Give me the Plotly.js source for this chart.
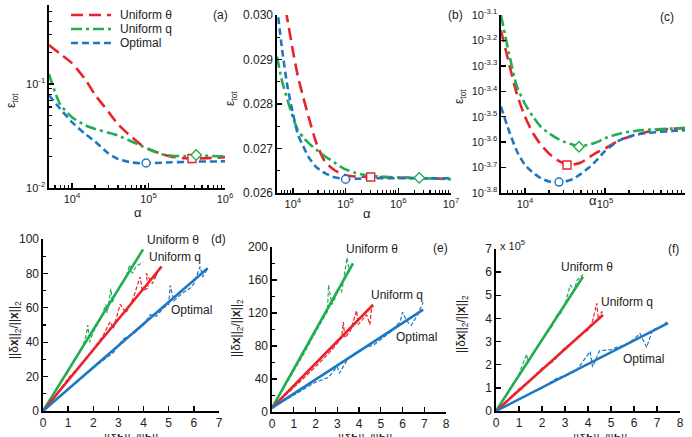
<!DOCTYPE html>
<html>
<head>
<meta charset="utf-8">
<script src="https://cdn.plot.ly/plotly-3.0.1.min.js"></script>
<style>
  html, body { margin: 0; padding: 0; background: #fff; }
  #chart { width: 692px; height: 437px; }
</style>
</head>
<body>
<div id="chart"></div>
<script>
// ---------- colours ----------
const RED = '#e8232b', GREEN = '#22ad52', BLUE = '#1f77c2';

// ---------- panel (a): total error vs regularisation parameter ----------
const aAlpha = [5000, 7000, 10000, 15000, 20000, 30000, 40000, 60000, 80000, 100000, 150000, 200000, 300000, 400000, 600000, 800000, 1000000];
const aTheta = [0.237, 0.195, 0.159, 0.110, 0.079, 0.054, 0.041, 0.031, 0.026, 0.0238, 0.0212, 0.0200, 0.0193, 0.0192, 0.0194, 0.0196, 0.0198];
const aQ     = [0.125, 0.064, 0.048, 0.040, 0.037, 0.034, 0.032, 0.028, 0.0255, 0.0236, 0.0211, 0.0204, 0.0203, 0.0205, 0.0204, 0.0202, 0.0201];
const aOpt   = [0.078, 0.058, 0.043, 0.033, 0.028, 0.0215, 0.0190, 0.0176, 0.0173, 0.0173, 0.0175, 0.0177, 0.0178, 0.0179, 0.0180, 0.0180, 0.0181];
const aMinAlpha = [370000, 420000, 93000];     // theta, q, optimal
const aMinEps   = [0.0192, 0.0208, 0.0174];

// ---------- panel (b) ----------
const bAlpha = [5000, 6300, 7900, 10000, 12600, 15800, 20000, 28000, 40000, 56000, 79000, 100000, 158000, 316000, 1000000, 3160000, 10000000];
const bTheta = [null, 0.0305, 0.0299, 0.0292, 0.0286, 0.02815, 0.0277, 0.02712, 0.02672, 0.02655, 0.02644, 0.0264, 0.02637, 0.02636, 0.02635, 0.02633, 0.02632];
const bQ     = [0.02906, 0.0285, 0.0281, 0.0277, 0.0274, 0.02725, 0.02712, 0.02697, 0.02683, 0.02672, 0.0266, 0.02653, 0.02645, 0.02638, 0.02635, 0.02633, 0.02631];
const bOpt   = [0.0302, 0.0292, 0.0284, 0.0278, 0.0273, 0.02705, 0.0268, 0.02658, 0.02645, 0.02637, 0.02633, 0.02631, 0.02632, 0.02633, 0.02633, 0.02633, 0.02633];
const bMinAlpha = [300000, 2500000, 100000];
const bMinEps   = [0.02636, 0.02634, 0.02631];

// ---------- panel (c): exponents of the total error ----------
const cAlpha = [5000, 6300, 7900, 10000, 12600, 15800, 20000, 25100, 31600, 39800, 50100, 63100, 79400, 100000, 158000, 251000, 398000, 631000, 1000000];
const cThetaExp = [-3.16, -3.29, -3.41, -3.50, -3.565, -3.61, -3.645, -3.67, -3.685, -3.688, -3.68, -3.66, -3.64, -3.625, -3.59, -3.57, -3.555, -3.548, -3.545];
const cQExp     = [-3.10, -3.25, -3.38, -3.45, -3.50, -3.54, -3.565, -3.585, -3.60, -3.61, -3.615, -3.61, -3.60, -3.585, -3.565, -3.555, -3.55, -3.547, -3.545];
const cOptExp   = [-3.46, -3.555, -3.635, -3.69, -3.72, -3.742, -3.755, -3.758, -3.755, -3.745, -3.725, -3.70, -3.67, -3.635, -3.59, -3.57, -3.562, -3.557, -3.553];
const cMinAlpha = [33500, 47300, 26600];
const cMinExp   = [-3.69, -3.618, -3.757];

// ---------- panels (d)-(f): perturbation response ----------
// noisy samples
const dThetaX = [0, 0.5, 1.0, 1.3, 1.55, 1.7, 1.78, 1.85, 2.0, 2.3, 2.5, 2.55, 2.7, 2.75, 2.9, 3.1, 3.3, 3.45, 3.55, 3.7, 3.98];
const dThetaY = [0, 12, 23, 31, 36, 43, 50, 40, 46, 54, 62, 57, 71, 63, 68, 73, 78, 85, 80, 84, 86.6];
const dQX = [0, 0.5, 1.0, 1.5, 2.0, 2.4, 2.67, 2.8, 3.07, 3.3, 3.6, 3.86, 3.95, 4.19, 4.1, 4.35, 4.53, 4.45, 4.66];
const dQY = [0, 9, 19, 27, 36, 44, 52, 48, 62, 57, 66, 78, 70, 71.5, 80, 74, 81, 77, 84];
const dOptX = [0, 1.0, 2.0, 2.8, 3.2, 3.6, 4.0, 4.26, 4.5, 4.8, 5.0, 5.06, 5.2, 5.5, 5.86, 6.0, 6.25, 6.35, 6.55];
const dOptY = [0, 13, 25, 34, 42, 45, 50, 56, 55, 60, 62, 73, 64, 68, 71.5, 74, 84, 78, 83];
// least-squares lines: end points
const dFitX = [3.98, 4.72, 6.55];
const dFitY = [94, 84, 83];

const eThetaX = [0, 0.5, 1.0, 1.5, 1.9, 2.3, 2.55, 2.6, 2.75, 2.9, 3.07, 3.2, 3.45, 3.55, 3.72];
const eThetaY = [5, 27, 50, 72, 92, 110, 122, 154, 130, 138, 150, 145, 187, 172, 180];
const eQX = [0, 0.5, 1.0, 1.5, 2.0, 2.5, 2.9, 3.2, 3.28, 3.35, 3.6, 3.89, 3.95, 4.1, 4.35, 4.5, 4.57, 4.65];
const eQY = [5, 17, 30, 42, 55, 68, 80, 90, 109, 90, 98, 123, 106, 110, 118, 106, 124, 128];
const eOptX = [0, 1.0, 2.0, 2.6, 3.0, 3.1, 3.5, 3.9, 4.3, 4.66, 5.0, 5.5, 5.9, 6.0, 6.2, 6.4, 6.7, 6.95];
const eOptY = [5, 21, 36, 42, 55, 47, 65, 73, 78, 81, 88, 98, 110, 121, 110, 105, 118, 133];
const eFitX = [3.72, 4.65, 6.95];
const eFitY = [180, 130, 124];

const fThetaX = [0, 0.5, 1.0, 1.33, 1.41, 1.6, 2.0, 2.4, 2.65, 2.8, 3.0, 3.23, 3.4, 3.52, 3.78];
const fThetaY = [0, 0.8, 1.6, 2.45, 2.1, 2.5, 3.1, 3.6, 4.15, 4.2, 4.6, 5.45, 5.2, 5.65, 5.9];
const fQX = [0, 1.0, 1.5, 2.0, 2.5, 3.0, 3.3, 3.6, 4.0, 4.2, 4.38, 4.45, 4.6, 4.65];
const fQY = [0, 0.95, 1.35, 1.85, 2.15, 2.75, 2.95, 3.25, 3.5, 3.9, 4.65, 3.95, 4.3, 4.15];
const fOptX = [0, 1.0, 2.0, 2.7, 3.0, 3.5, 4.09, 4.2, 4.5, 5.0, 5.24, 5.6, 6.0, 6.26, 6.55, 6.8, 7.1, 7.43];
const fOptY = [0, 0.5, 1.0, 1.45, 1.5, 1.75, 2.57, 1.9, 2.6, 2.65, 2.75, 2.85, 3.1, 3.35, 2.75, 3.5, 3.6, 3.85];
const fFitX = [3.78, 4.65, 7.48];
const fFitY = [5.8, 4.15, 3.8];

const seriesNames = ['Uniform θ', 'Uniform q', 'Optimal'];

// ---------- styles ----------
const DASH = { theta: '12px,6px', q: '11px,4px,3px,4px', opt: '7px,4px' };
const FONT = 'Liberation Sans, Arial, Helvetica, sans-serif';

const W = 692, H = 437;
const px = v => v / W;
const py = v => 1 - v / H;

const traces = [];
function curve(ax, x, y, color, dash) {
  traces.push({ type: 'scatter', mode: 'lines', x: x, y: y, xaxis: 'x' + ax, yaxis: 'y' + ax,
    line: { color: color, width: 2.6, dash: dash, shape: 'spline', smoothing: 0.6 },
    connectgaps: false, showlegend: false, hoverinfo: 'skip' });
}
function marker(ax, x, y, color, symbol) {
  traces.push({ type: 'scatter', mode: 'markers', x: [x], y: [y], xaxis: 'x' + ax, yaxis: 'y' + ax,
    marker: { symbol: symbol, size: 8, color: '#fff', line: { color: color, width: 1.4 } },
    showlegend: false, hoverinfo: 'skip' });
}
function noisy(ax, x, y, color) {
  traces.push({ type: 'scatter', mode: 'lines', x: x, y: y, xaxis: 'x' + ax, yaxis: 'y' + ax,
    line: { color: color, width: 1.2, dash: '4px,2px' }, showlegend: false, hoverinfo: 'skip' });
}
function fit(ax, xe, ye, color, y0) {
  traces.push({ type: 'scatter', mode: 'lines', x: [0, xe], y: [y0, ye], xaxis: 'x' + ax, yaxis: 'y' + ax,
    line: { color: color, width: 2.6 }, showlegend: false, hoverinfo: 'skip' });
}

// (a)
curve('', aAlpha, aTheta, RED, DASH.theta);
curve('', aAlpha, aQ, GREEN, DASH.q);
curve('', aAlpha, aOpt, BLUE, DASH.opt);
// (b)
curve('2', bAlpha, bTheta, RED, DASH.theta);
curve('2', bAlpha, bQ, GREEN, DASH.q);
curve('2', bAlpha, bOpt, BLUE, DASH.opt);
// (c)
const pow10 = a => a.map(v => Math.pow(10, v));
curve('3', cAlpha, pow10(cThetaExp), RED, DASH.theta);
curve('3', cAlpha, pow10(cQExp), GREEN, DASH.q);
curve('3', cAlpha, pow10(cOptExp), BLUE, DASH.opt);

// minimum markers (white-filled)
const mColors = [RED, GREEN, BLUE], mSymbols = ['square', 'diamond', 'circle'];
for (let i = 0; i < 3; i++) {
  marker('', aMinAlpha[i], aMinEps[i], mColors[i], mSymbols[i]);
  marker('2', bMinAlpha[i], bMinEps[i], mColors[i], mSymbols[i]);
  marker('3', cMinAlpha[i], Math.pow(10, cMinExp[i]), mColors[i], mSymbols[i]);
}

// (d)-(f): green = uniform theta, red = uniform q, blue = optimal
const lineColors = [GREEN, RED, BLUE];
noisy('4', dThetaX, dThetaY, GREEN); noisy('4', dQX, dQY, RED); noisy('4', dOptX, dOptY, BLUE);
noisy('5', eThetaX, eThetaY, GREEN); noisy('5', eQX, eQY, RED); noisy('5', eOptX, eOptY, BLUE);
noisy('6', fThetaX, fThetaY, GREEN); noisy('6', fQX, fQY, RED); noisy('6', fOptX, fOptY, BLUE);
for (let i = 0; i < 3; i++) {
  fit('4', dFitX[i], dFitY[i], lineColors[i], 0);
  fit('5', eFitX[i], eFitY[i], lineColors[i], 5);
  fit('6', fFitX[i], fFitY[i], lineColors[i], 0);
}

// ---------- axes ----------
function decadeMinors(lo, hi) {
  const out = [];
  for (let e = lo; e < hi; e++) for (let k = 2; k <= 9; k++) out.push(k * Math.pow(10, e));
  return out;
}
const sup = (e) => '10<sup>' + e + '</sup>';
function baseAxis(extra) {
  return Object.assign({
    showline: true, linecolor: '#000', linewidth: 1.6, mirror: false,
    ticks: 'inside', ticklen: 5, tickwidth: 1.4, tickcolor: '#000',
    showgrid: false, zeroline: false, fixedrange: true,
    tickfont: { family: FONT, size: 11, color: '#222' }
  }, extra);
}
function logX(domain, lo, hi, exps, anchor) {
  return baseAxis({ type: 'log', domain: domain, range: [lo, hi], anchor: anchor,
    tickmode: 'array', tickvals: exps.map(e => Math.pow(10, e)), ticktext: exps.map(sup),
    minor: { ticks: 'inside', ticklen: 3, tickwidth: 1.2, tickcolor: '#000', tickmode: 'array',
      tickvals: decadeMinors(Math.floor(lo), Math.ceil(hi)) } });
}
const linFont = { family: FONT, size: 12, color: '#222' };

const layout = {
  width: W, height: H,
  margin: { l: 0, r: 0, t: 0, b: 0 },
  paper_bgcolor: '#fff', plot_bgcolor: 'rgba(0,0,0,0)',
  showlegend: false,
  font: { family: FONT, size: 11, color: '#222' },

  xaxis:  logX([px(49), px(225)], 3.7, 6, [4, 5, 6], 'y'),
  yaxis:  baseAxis({ type: 'log', domain: [py(188), py(5)], range: [-2, -0.24], anchor: 'x',
            tickmode: 'array', tickvals: [0.01, 0.1], ticktext: [sup('-2'), sup('-1')],
            minor: { ticks: 'inside', ticklen: 3, tickwidth: 1.2, tickcolor: '#000', tickmode: 'array',
              tickvals: decadeMinors(-2, 0) } }),

  xaxis2: logX([px(277), px(451)], 3.7, 7, [4, 5, 6, 7], 'y2'),
  yaxis2: baseAxis({ domain: [py(193), py(15)], range: [0.026, 0.030], anchor: 'x2',
            tickmode: 'array', tickvals: [0.026, 0.027, 0.028, 0.029, 0.030],
            ticktext: ['0.026', '0.027', '0.028', '0.029', '0.030'],
            tickfont: linFont,
            minor: { ticks: 'inside', ticklen: 3, tickwidth: 1.2, tickcolor: '#000', dtick: 0.0005 } }),

  xaxis3: logX([px(501), px(685)], 3.7, 6, [4, 5, 6], 'y3'),
  yaxis3: baseAxis({ type: 'log', domain: [py(193), py(15)], range: [-3.8, -3.1], anchor: 'x3',
            tickmode: 'array',
            tickvals: [-3.1, -3.2, -3.3, -3.4, -3.5, -3.6, -3.7, -3.8].map(e => Math.pow(10, e)),
            ticktext: ['-3.1', '-3.2', '-3.3', '-3.4', '-3.5', '-3.6', '-3.7', '-3.8'].map(sup) }),

  xaxis4: baseAxis({ domain: [px(43), px(219)], range: [0, 7], dtick: 1, anchor: 'y4', tickfont: linFont }),
  yaxis4: baseAxis({ domain: [py(411), py(239)], range: [0, 100], dtick: 20, anchor: 'x4', tickfont: linFont,
            minor: { ticks: 'inside', ticklen: 3, tickwidth: 1.2, tickcolor: '#000', dtick: 10 } }),
  xaxis5: baseAxis({ domain: [px(272), px(446)], range: [0, 8], dtick: 1, anchor: 'y5', tickfont: linFont }),
  yaxis5: baseAxis({ domain: [py(412), py(247)], range: [0, 200], dtick: 40, anchor: 'x5', tickfont: linFont,
            minor: { ticks: 'inside', ticklen: 3, tickwidth: 1.2, tickcolor: '#000', dtick: 20 } }),
  xaxis6: baseAxis({ domain: [px(496), px(680)], range: [0, 8], dtick: 1, anchor: 'y6', tickfont: linFont }),
  yaxis6: baseAxis({ domain: [py(411), py(249)], range: [0, 7], dtick: 1, anchor: 'x6', tickfont: linFont }),

  shapes: [],
  annotations: []
};

// ---------- text ----------
function label(x, y, text, size, opts) {
  layout.annotations.push(Object.assign({
    xref: 'paper', yref: 'paper', x: px(x), y: py(y), text: text, showarrow: false,
    xanchor: 'center', yanchor: 'middle', font: { family: FONT, size: size, color: '#222' }
  }, opts || {}));
}
const epsTitle = 'ε<sub>tot</sub>';
const dxTitle = '||δ<b>x</b>||<sub>2</sub>/||<b>x</b>||<sub>2</sub>';
const dbTitle = '||δ<b>b</b>||<sub>2</sub>/||<b>b</b>||<sub>2</sub>';

label(12, 100, epsTitle, 12, { textangle: -90 });
label(231, 99, epsTitle, 12, { textangle: -90 });
label(460, 96, epsTitle, 12, { textangle: -90 });
label(138, 212, 'α', 13);
label(367, 213, 'α', 13);
label(593, 201, 'α', 13);

label(15, 330, dxTitle, 12, { textangle: -90 });
label(237, 328, dxTitle, 12, { textangle: -90 });
label(462, 324, dxTitle, 12, { textangle: -90 });
// lower axis titles sit at the bottom edge of the figure
label(133, 430, dbTitle, 12, { yanchor: 'top' });
label(367, 430, dbTitle, 12, { yanchor: 'top' });
label(602, 430, dbTitle, 12, { yanchor: 'top' });

label(220, 15, '(a)', 12);
label(455, 15, '(b)', 12);
label(667, 17, '(c)', 12);
label(218, 239, '(d)', 12);
label(440, 248, '(e)', 12);
label(673, 249, '(f)', 12);

// series labels in the lower panels
label(173, 240, seriesNames[0], 12);
label(175, 257, seriesNames[1], 12);
label(192, 310, seriesNames[2], 12);
label(372, 249, seriesNames[0], 12);
label(397, 295, seriesNames[1], 12);
label(416, 337, seriesNames[2], 12);
label(587, 267, seriesNames[0], 12);
label(627, 302, seriesNames[1], 12);
label(643, 359, seriesNames[2], 12);
label(498, 245, 'x 10<sup>5</sup>', 11, { xanchor: 'left' });

// legend of panel (a)
const legendY = [15, 29, 43];
const legendColors = [RED, GREEN, BLUE];
const legendDash = [DASH.theta, DASH.q, DASH.opt];
for (let i = 0; i < 3; i++) {
  layout.shapes.push({ type: 'line', xref: 'paper', yref: 'paper',
    x0: px(71), x1: px(111), y0: py(legendY[i]), y1: py(legendY[i]),
    line: { color: legendColors[i], width: 2.6, dash: legendDash[i] } });
  label(118, legendY[i], seriesNames[i], 12, { xanchor: 'left' });
}

Plotly.newPlot('chart', traces, layout, { staticPlot: true, displayModeBar: false });
</script>
</body>
</html>
